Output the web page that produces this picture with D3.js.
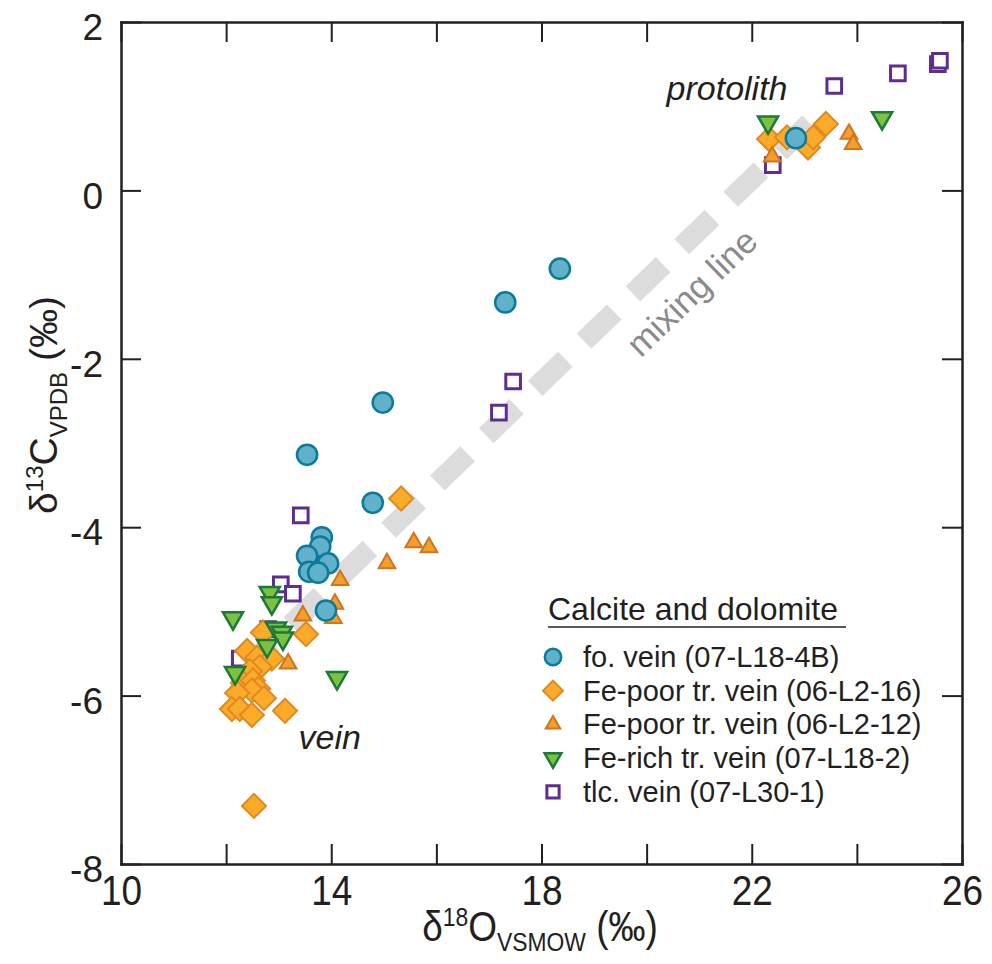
<!DOCTYPE html>
<meta charset="utf-8">
<style>
body { margin: 0; background: #fff; }
svg { display: block; }
.axis path, .axis line { stroke: #231f20; }
.axis path { stroke-width: 2.5; }
.axis line { stroke-width: 2; }
.xlab text { font-family: "Liberation Sans", Arial, sans-serif; font-size: 42px; fill: #231f20; }
.ylab text { font-family: "Liberation Sans", Arial, sans-serif; font-size: 37px; fill: #231f20; }
</style>
<script src="https://cdn.jsdelivr.net/npm/d3@7"></script>
<body>
<script>

// values: [d18O, d13C]
var foVein = [[22.84,0.62],[18.35,-0.93],[17.31,-1.33],[14.98,-2.52],[13.54,-3.14],[14.79,-3.71],
  [13.82,-4.12],[13.79,-4.23],[13.54,-4.34],[13.94,-4.43],[13.58,-4.53],[13.75,-4.54],[13.90,-4.99]];
var fePoor16 = [[22.33,0.61],[22.67,0.63],[23.07,0.51],[23.17,0.63],[23.41,0.79],[15.33,-3.66],[13.52,-5.27],
  [12.70,-5.25],[12.40,-5.47],[12.59,-5.55],[12.87,-5.56],[12.64,-5.66],[12.45,-5.71],[12.32,-5.85],
  [12.51,-5.82],[12.61,-5.92],[12.49,-5.94],[12.72,-6.03],[12.21,-5.97],[12.11,-6.16],[12.26,-6.16],
  [12.49,-6.23],[13.12,-6.18],[12.53,-7.31]];
var fePoor12 = [[22.39,0.40],[23.85,0.67],[23.93,0.55],[15.57,-4.18],[15.86,-4.24],[15.06,-4.43],
  [14.17,-4.63],[14.07,-4.91],[14.04,-5.08],[13.46,-5.05],[13.18,-5.62]];
var feRich = [[22.31,0.81],[24.48,0.86],[12.13,-5.08],[12.83,-4.78],[12.87,-4.90],[12.95,-5.20],
  [13.06,-5.25],[13.08,-5.32],[12.78,-5.41],[12.17,-5.73],[14.11,-5.79],[13.65,-4.37]];
var tlcVein = [[23.57,1.24],[24.78,1.39],[25.54,1.50],[25.58,1.54],[22.40,0.30],[17.46,-2.27],[17.19,-2.64],
  [13.42,-3.86],[13.04,-4.68],[13.27,-4.79],[12.80,-5.21],[12.26,-5.56]];

var mixLine = [[12.3,-5.72],[23.1,0.80]];

var xTicks = [10,12,14,16,18,20,22,24,26];
var xLabels = [10,14,18,22,26];
var yTicks = [2,0,-2,-4,-6,-8];

var legendNames = ["fo. vein (07-L18-4B)", "Fe-poor tr. vein (06-L2-16)", "Fe-poor tr. vein (06-L2-12)",
  "Fe-rich tr. vein (07-L18-2)", "tlc. vein (07-L30-1)"];

var w = 992, h = 964;
var padL = 121, padR = 962, padT = 22, padB = 864;

var svg = d3.select("body").append("svg")
  .attr("width", w)
  .attr("height", h);

var x = d3.scaleLinear().domain([10, 26]).range([padL, padR]);
var y = d3.scaleLinear().domain([-8, 2]).range([padB, padT]);

// frame with inward ticks on all four sides
svg.append("g").attr("class", "axis xlab")
  .attr("transform", "translate(0," + padB + ")")
  .call(d3.axisBottom(x).tickValues(xTicks).tickSizeInner(-20).tickSizeOuter(0).tickPadding(11)
    .tickFormat(function(d) { return xLabels.indexOf(d) >= 0 ? d : ""; }))
  .selectAll("text").attr("transform", "scale(0.88,1)");
svg.append("g").attr("class", "axis")
  .attr("transform", "translate(0," + padT + ")")
  .call(d3.axisTop(x).tickValues(xTicks).tickSizeInner(-20).tickSizeOuter(0).tickFormat(""));
svg.append("g").attr("class", "axis ylab")
  .attr("transform", "translate(" + padL + ",0)")
  .call(d3.axisLeft(y).tickValues(yTicks).tickSizeInner(-20).tickSizeOuter(0).tickPadding(18)
    .tickFormat(function(d) { return String(d); }))
  .selectAll("text").attr("dy", "0.48em");
svg.append("g").attr("class", "axis")
  .attr("transform", "translate(" + padR + ",0)")
  .call(d3.axisRight(y).tickValues(yTicks).tickSizeInner(-20).tickSizeOuter(0).tickFormat(""));
svg.selectAll(".axis .domain").attr("stroke-linecap", "square");

// mixing line
svg.append("path")
  .attr("d", d3.line().x(function(d) { return x(d[0]); }).y(function(d) { return y(d[1]); })(mixLine))
  .attr("fill", "none")
  .attr("stroke", "#dcdcdc")
  .attr("stroke-width", 21)
  .attr("stroke-dasharray", "42,26");

svg.append("text")
  .attr("transform", "translate(" + x(20.86) + "," + y(-1.21) + ") rotate(-44)")
  .attr("text-anchor", "middle")
  .attr("dy", "0.35em")
  .attr("font-family", "Liberation Sans, Arial, sans-serif")
  .attr("font-size", "35px")
  .attr("fill", "#8a8a8a")
  .text("mixing line");

svg.append("text")
  .attr("x", x(21.53)).attr("y", y(1.07))
  .attr("text-anchor", "middle")
  .attr("font-family", "Liberation Sans, Arial, sans-serif")
  .attr("font-style", "italic")
  .attr("font-size", "34px")
  .attr("fill", "#231f20")
  .text("protolith");

svg.append("text")
  .attr("x", x(13.97)).attr("y", y(-6.63))
  .attr("text-anchor", "middle")
  .attr("font-family", "Liberation Sans, Arial, sans-serif")
  .attr("font-style", "italic")
  .attr("font-size", "34px")
  .attr("fill", "#231f20")
  .text("vein");

// series styles
var styles = [
  {data: foVein, type: d3.symbolCircle, size: 320, rot: 0, fill: "#62b1ca", stroke: "#0b7a9b", sw: 2.5, lsize: 210},
  {data: fePoor16, type: d3.symbolSquare, size: 290, rot: 45, fill: "#fbab28", stroke: "#df8922", sw: 2, lsize: 200},
  {data: fePoor12, type: d3.symbolTriangle, size: 120, rot: 0, fill: "#f39f2e", stroke: "#d2731d", sw: 2, lsize: 90},
  {data: feRich, type: d3.symbolTriangle, size: 175, rot: 180, fill: "#7cc142", stroke: "#1b7a36", sw: 2.5, lsize: 120},
  {data: tlcVein, type: d3.symbolSquare, size: 215, rot: 0, fill: "#ffffff", stroke: "#5e2d91", sw: 3, lsize: 150}
];

var drawOrder = [4, 1, 3, 2, 0];
drawOrder.forEach(function(k) {
  var s = styles[k];
  svg.append("g").selectAll("path")
    .data(s.data)
    .enter()
    .append("path")
    .attr("d", d3.symbol().type(s.type).size(s.size))
    .attr("transform", function(d) {
      return "translate(" + x(d[0]) + "," + y(d[1]) + ") rotate(" + s.rot + ")";
    })
    .attr("fill", s.fill)
    .attr("stroke", s.stroke)
    .attr("stroke-width", s.sw);
});

// legend
var lg = svg.append("g").attr("font-family", "Liberation Sans, Arial, sans-serif").attr("fill", "#231f20");
lg.append("text")
  .attr("x", 548).attr("y", 620)
  .attr("font-size", "32px")
  .text("Calcite and dolomite");
lg.append("line")
  .attr("x1", 548).attr("x2", 846)
  .attr("y1", 627).attr("y2", 627)
  .attr("stroke", "#231f20").attr("stroke-width", 1.5);

styles.forEach(function(s, i) {
  var by = 667 + i * 33.7;
  lg.append("path")
    .attr("d", d3.symbol().type(s.type).size(s.lsize))
    .attr("transform", "translate(553," + (by - 10) + ") rotate(" + s.rot + ")")
    .attr("fill", s.fill)
    .attr("stroke", s.stroke)
    .attr("stroke-width", s.sw);
  lg.append("text")
    .attr("x", 583).attr("y", by)
    .attr("font-size", "29px")
    .text(legendNames[i]);
});

// axis titles
var xt = svg.append("text")
  .attr("transform", "translate(540,941) scale(0.88,1)")
  .attr("text-anchor", "middle")
  .attr("font-family", "Liberation Sans, Arial, sans-serif")
  .attr("font-size", "42px")
  .attr("fill", "#231f20");
xt.append("tspan").text("δ");
xt.append("tspan").attr("font-size", "26px").attr("dy", "-15").text("18");
xt.append("tspan").attr("dy", "15").text("O");
xt.append("tspan").attr("font-size", "26px").attr("dy", "10").text("VSMOW");
xt.append("tspan").attr("dy", "-10").text(" (‰)");

var yt = svg.append("text")
  .attr("transform", "translate(57,405) rotate(-90)")
  .attr("text-anchor", "middle")
  .attr("font-family", "Liberation Sans, Arial, sans-serif")
  .attr("font-size", "39px")
  .attr("fill", "#231f20");
yt.append("tspan").text("δ");
yt.append("tspan").attr("font-size", "24px").attr("dy", "-14").text("13");
yt.append("tspan").attr("dy", "14").text("C");
yt.append("tspan").attr("font-size", "24px").attr("dy", "10").text("VPDB");
yt.append("tspan").attr("dy", "-10").text(" (‰)");

</script>
</body>
